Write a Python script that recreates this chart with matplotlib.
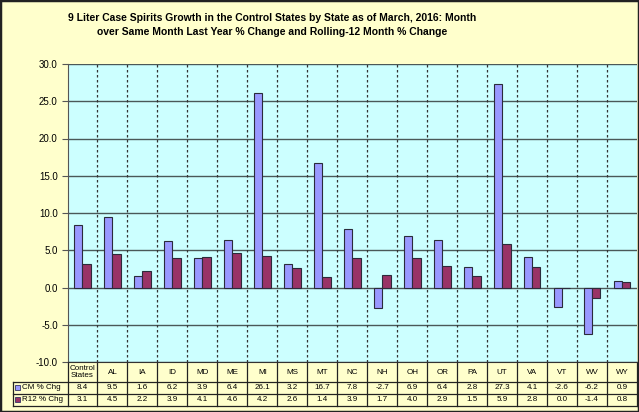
import numpy as np
import matplotlib
matplotlib.use("Agg")
import matplotlib.pyplot as plt
from matplotlib.patches import Rectangle

plt.rcParams['font.family'] = ['Liberation Sans', 'DejaVu Sans']

states = ['Control\nStates', 'AL', 'IA', 'ID', 'MD', 'ME', 'MI', 'MS', 'MT', 'NC',
          'NH', 'OH', 'OR', 'PA', 'UT', 'VA', 'VT', 'WV', 'WY']
cm_chg = [8.4, 9.5, 1.6, 6.2, 3.9, 6.4, 26.1, 3.2, 16.7, 7.8,
          -2.7, 6.9, 6.4, 2.8, 27.3, 4.1, -2.6, -6.2, 0.9]
r12_chg = [3.1, 4.5, 2.2, 3.9, 4.1, 4.6, 4.2, 2.6, 1.4, 3.9,
           1.7, 4.0, 2.9, 1.5, 5.9, 2.8, 0.0, -1.4, 0.8]
series_names = ['CM % Chg', 'R12 % Chg']
colors = ['#9999FF', '#993366']

W, H = 639, 412
fig = plt.figure(figsize=(W / 100, H / 100), dpi=100)
fig.patch.set_facecolor('#FFFFCC')

# plot area in pixels: x 67.5..637, y 64..362
ax = fig.add_axes([67.5 / W, 1 - 362 / H, (637 - 67.5) / W, (362 - 64) / H])
ax.set_facecolor('#CCFFFF')

n = len(states)
x = np.arange(n)
bw = 0.28
ax.bar(x - bw / 2, cm_chg, bw, color=colors[0], edgecolor='#2b2b3b', lw=0.8, zorder=3)
ax.bar(x + bw / 2, r12_chg, bw, color=colors[1], edgecolor='#2b2b3b', lw=0.8, zorder=3)

ax.set_xlim(-0.5, n - 0.5)
ax.set_ylim(-10, 30)
yt = np.arange(-10, 31, 5)
ax.set_yticks(yt)
ax.set_yticklabels([f'{v:.1f}' for v in yt], fontsize=7)
ax.set_xticks([])
ax.tick_params(axis='y', direction='out', length=4, color='#555555', pad=3)
ax.yaxis.grid(True, color='#4a5858', lw=1)
ax.set_axisbelow(True)
for s in ['top', 'right']:
    ax.spines[s].set_visible(False)
ax.spines['left'].set_color('#555555')
ax.spines['bottom'].set_color('#333333')

# table geometry (axes fraction rows, data-x columns)
tr = ax.get_xaxis_transform()
ph = 362 - 64
row_y = [0, -20 / ph, -31.5 / ph, -43.5 / ph]
x_left = -0.5 + (13 - 67.5) / 30

# dotted category separators in plot, solid in table
for b in np.arange(0.5, n - 0.5, 1):
    ax.plot([b, b], [0, 1], transform=tr, color='#333333', lw=0.9,
            ls=(0, (2, 2)), zorder=2)
    ax.plot([b, b], [row_y[3], 0], transform=tr, color='#222222', lw=0.9,
            clip_on=False)
ax.plot([n - 0.5, n - 0.5], [row_y[3], 0], transform=tr, color='#222222', lw=0.9, clip_on=False)
ax.plot([-0.5, -0.5], [row_y[3], 0], transform=tr, color='#222222', lw=0.9, clip_on=False)
ax.plot([x_left, x_left], [row_y[3], row_y[1]], transform=tr, color='#222222', lw=0.9, clip_on=False)
for ry in row_y[1:]:
    ax.plot([x_left, n - 0.5], [ry, ry], transform=tr, color='#222222', lw=0.9, clip_on=False)

# header row
for i, s in enumerate(states):
    ax.text(i, (row_y[0] + row_y[1]) / 2, s, transform=tr, ha='center', va='center',
            fontsize=5.8, linespacing=1.05, clip_on=False)

# value rows
for r, vals in enumerate([cm_chg, r12_chg]):
    yc = (row_y[r + 1] + row_y[r + 2]) / 2
    for i, v in enumerate(vals):
        ax.text(i, yc, f'{v:.1f}', transform=tr, ha='center', va='center',
                fontsize=5.8, clip_on=False)
    ax.text(x_left + 0.3, yc, series_names[r], transform=tr, ha='left', va='center',
            fontsize=5.8, clip_on=False)
    ax.add_patch(Rectangle((x_left + 0.07, yc - 0.008), 0.17, 0.017, transform=tr,
                           facecolor=colors[r], edgecolor='#333366', lw=0.6, clip_on=False))

fig.text(272 / W, 1 - 25 / H,
         '9 Liter Case Spirits Growth in the Control States by State as of March, 2016: Month\n'
         'over Same Month Last Year % Change and Rolling-12 Month % Change',
         ha='center', va='center', fontsize=7.5, fontweight='bold', linespacing=1.45)

fig.patches.append(Rectangle((0, 0), 1, 1, transform=fig.transFigure, fill=False,
                             edgecolor='#222222', lw=2.5))

fig.savefig('out.png', dpi=100, facecolor=fig.get_facecolor())
